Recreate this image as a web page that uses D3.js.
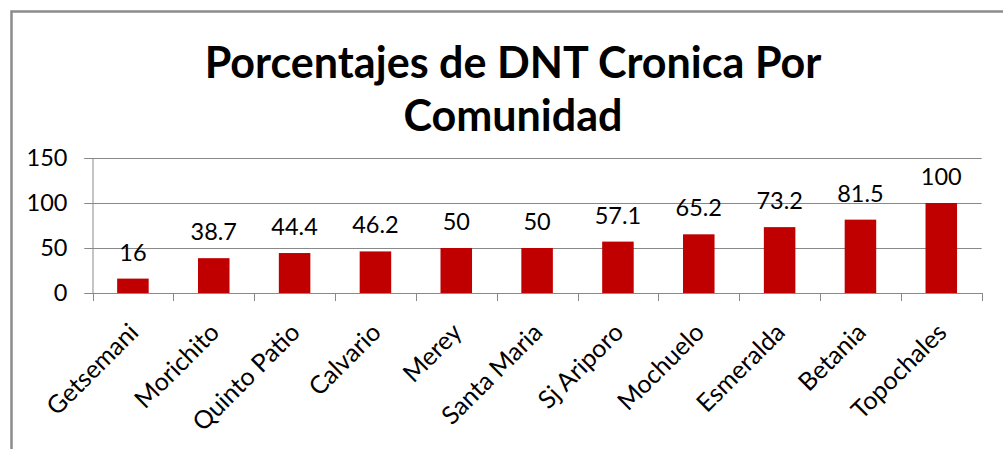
<!DOCTYPE html>
<html>
<head>
<meta charset="utf-8">
<script src="https://cdn.jsdelivr.net/npm/d3@7"></script>
<style>
  html, body { margin: 0; padding: 0; background: #fff; overflow: hidden; }
  svg { display: block; }
  text { font-family: Lato, "Open Sans", sans-serif; }
</style>
</head>
<body>
<svg id="chart" width="1003" height="449"></svg>
<script>
const categories = ["Getsemani", "Morichito", "Quinto Patio", "Calvario", "Merey", "Santa Maria", "Sj Ariporo", "Mochuelo", "Esmeralda", "Betania", "Topochales"];
const values = [16, 38.7, 44.4, 46.2, 50, 50, 57.1, 65.2, 73.2, 81.5, 100];
const valueLabels = ["16", "38.7", "44.4", "46.2", "50", "50", "57.1", "65.2", "73.2", "81.5", "100"];
const yTicks = [0, 50, 100, 150];
const titleLines = ["Porcentajes de DNT Cronica Por", "Comunidad"];

const svg = d3.select("#chart");
const gray = "#898989";

// chart frame
svg.append("rect")
  .attr("x", 11.5).attr("y", 11.5)
  .attr("width", 1100).attr("height", 600)
  .attr("fill", "#fff").attr("stroke", "#8c8c8c").attr("stroke-width", 2.5);

const plot = { left: 92.5, right: 981.7, top: 158, bottom: 293 };

const x = d3.scaleBand().domain(categories)
  .range([plot.left, plot.right])
  .paddingInner(0.61).paddingOuter(0.305);
const y = d3.scaleLinear().domain([0, 150]).range([plot.bottom, plot.top]);

// title
const title = svg.append("g");
const tl = title.selectAll("text").data(titleLines).join("text")
  .attr("x", 513)
  .attr("y", (d, i) => 78 + i * 53)
  .attr("text-anchor", "middle")
  .attr("font-weight", "bold")
  .attr("font-size", 42)
  .attr("fill", "#000")
  .text(d => d);
const w0 = tl.nodes()[0].getComputedTextLength();
tl.attr("font-size", 42 * 617 / w0);

// gridlines
const grid = svg.append("g");
grid.selectAll("line").data(yTicks.filter(t => t > 0)).join("line")
  .attr("x1", plot.left - 8).attr("x2", plot.right)
  .attr("y1", d => Math.round(y(d)) + 0.5).attr("y2", d => Math.round(y(d)) + 0.5)
  .attr("stroke", gray).attr("stroke-width", 1);

// y axis
const yAxis = svg.append("g")
  .attr("transform", `translate(${plot.left},0)`)
  .call(d3.axisLeft(y).tickValues(yTicks).tickSize(8).tickPadding(17).tickFormat(d3.format("d")));
yAxis.select(".domain").attr("stroke", gray);
yAxis.selectAll(".tick line").attr("stroke", gray);
yAxis.selectAll(".tick text")
  .attr("font-size", 23.5).attr("fill", "#000")
  .attr("font-family", "Lato, 'Open Sans', sans-serif");

// bars
svg.append("g").selectAll("rect").data(values).join("rect")
  .attr("x", (d, i) => x(categories[i]))
  .attr("width", x.bandwidth())
  .attr("y", d => y(d))
  .attr("height", d => y(0) - y(d))
  .attr("fill", "#c00000");

// value labels
svg.append("g").selectAll("text").data(values).join("text")
  .attr("x", (d, i) => x(categories[i]) + x.bandwidth() / 2)
  .attr("y", d => y(d) - 18)
  .attr("text-anchor", "middle")
  .attr("font-size", 23.5)
  .attr("fill", "#000")
  .text((d, i) => valueLabels[i]);

// x axis
const xAxis = svg.append("g")
  .attr("transform", `translate(0,${plot.bottom})`)
  .call(d3.axisBottom(x).tickSize(0).tickPadding(0));
xAxis.select(".domain").attr("stroke", gray);
const step = x.step();
const bounds = d3.range(categories.length + 1).map(i => plot.left + i * step);
xAxis.append("g").selectAll("line").data(bounds).join("line")
  .attr("x1", d => Math.round(d) + 0.5).attr("x2", d => Math.round(d) + 0.5)
  .attr("y1", 0).attr("y2", 8)
  .attr("stroke", gray);
xAxis.selectAll(".tick text")
  .attr("font-size", 25)
  .attr("fill", "#000")
  .attr("font-family", "Lato, 'Open Sans', sans-serif")
  .attr("text-anchor", "end")
  .attr("dy", 0)
  .attr("transform", "translate(7,41) rotate(-45)");
</script>
</body>
</html>
